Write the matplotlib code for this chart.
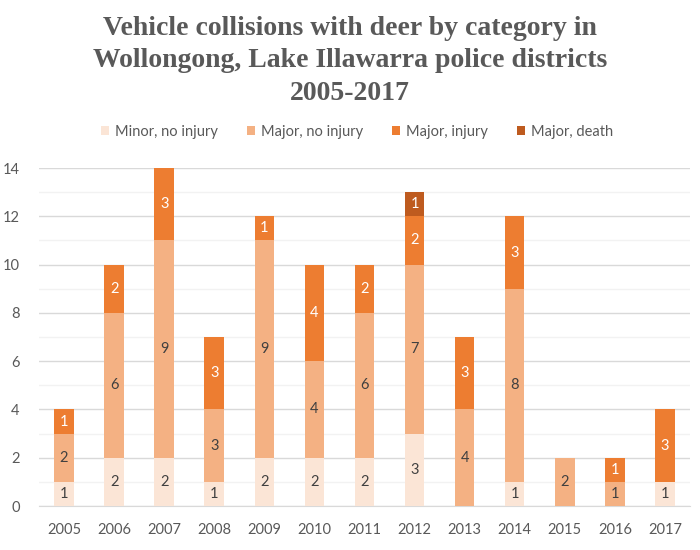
import matplotlib.pyplot as plt
import numpy as np

years = ['2005', '2006', '2007', '2008', '2009', '2010', '2011',
         '2012', '2013', '2014', '2015', '2016', '2017']
minor_no_injury = [1, 2, 2, 1, 2, 2, 2, 3, 0, 1, 0, 0, 1]
major_no_injury = [2, 6, 9, 3, 9, 4, 6, 7, 4, 8, 2, 1, 0]
major_injury = [1, 2, 3, 3, 1, 4, 2, 2, 3, 3, 0, 1, 3]
major_death = [0, 0, 0, 0, 0, 0, 0, 1, 0, 0, 0, 0, 0]

series = [('Minor, no injury', minor_no_injury, '#FBE5D6', '#404040'),
          ('Major, no injury', major_no_injury, '#F4B183', '#404040'),
          ('Major, injury', major_injury, '#ED7D31', 'white'),
          ('Major, death', major_death, '#BE5B1F', 'white')]

title_lines = ['Vehicle collisions with deer by category in',
               'Wollongong, Lake Illawarra police districts',
               '2005-2017']

grey = '#595959'
plt.rcParams['font.family'] = ['Lato', 'DejaVu Sans']

fig = plt.figure(figsize=(7, 5.5), dpi=100)
ax = fig.add_axes([0.0557, 0.08, 0.93, 0.6145])

x = np.arange(len(years))
bottom = np.zeros(len(years))
for name, vals, color, tcolor in series:
    vals = np.array(vals, dtype=float)
    ax.bar(x, vals, 0.39, bottom=bottom, color=color, label=name, zorder=3)
    for xi, b, v in zip(x, bottom, vals):
        if v > 0:
            ax.text(xi, b + v / 2, '%d' % v, ha='center', va='center',
                    fontsize=10.5, color=tcolor, zorder=4)
    bottom += vals

ax.set_xlim(-0.5, 12.5)
ax.set_ylim(0, 14)
ax.set_yticks(range(0, 15, 2))
ax.set_yticks(range(1, 15, 2), minor=True)
ax.set_xticks(x)
ax.set_xticklabels(years)
ax.grid(axis='y', which='major', color='#D9D9D9', lw=1, zorder=0)
ax.grid(axis='y', which='minor', color='#F2F2F2', lw=1, zorder=0)
for s in ['top', 'right', 'left']:
    ax.spines[s].set_visible(False)
ax.spines['bottom'].set_color('#D9D9D9')
ax.tick_params(axis='both', which='both', length=0, labelsize=10.5,
               labelcolor=grey)
ax.tick_params(axis='y', pad=14)
ax.tick_params(axis='x', pad=12)

# title, one text per line so the spacing matches
for i, line in enumerate(title_lines):
    fig.text(0.5, 0.949 - i * 0.0595, line, ha='center', va='center',
             fontsize=20, color=grey, family='Liberation Serif',
             weight='bold')

ax.legend(loc='center', bbox_to_anchor=(0.51, 0.760),
          bbox_transform=fig.transFigure, ncol=4, frameon=False,
          fontsize=10.5, labelcolor=grey, handlelength=0.6, handleheight=0.6,
          handletextpad=0.4, columnspacing=1.95)

fig.savefig('out.png')
